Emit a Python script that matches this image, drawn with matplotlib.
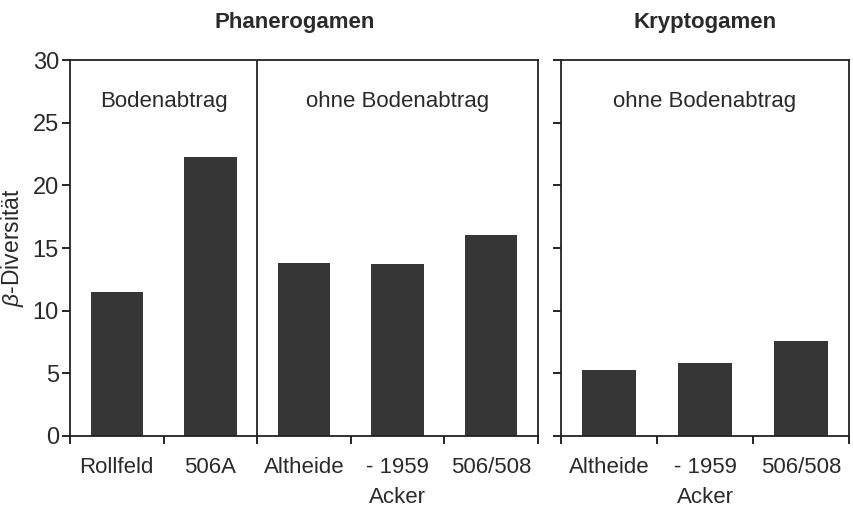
import matplotlib.pyplot as plt
import numpy as np

plt.rcParams['font.family'] = ['Liberation Sans', 'DejaVu Sans']
plt.rcParams['mathtext.fontset'] = 'custom'
plt.rcParams['mathtext.it'] = 'Liberation Sans:italic'

# Phanerogamen
phan_labels = ['Rollfeld', '506A', 'Altheide', '- 1959\nAcker', '506/508']
phan_values = [11.5, 22.3, 13.8, 13.7, 16.0]
# Kryptogamen
kryp_labels = ['Altheide', '- 1959\nAcker', '506/508']
kryp_values = [5.3, 5.8, 7.6]

bar_color = '#363636'
txt_color = '#2a2a2a'
fs = 16

fig = plt.figure(figsize=(8.54, 5.11), dpi=100)
ax1 = fig.add_axes([70 / 854, 1 - 436 / 511, (538 - 70) / 854, (436 - 60) / 511])
ax2 = fig.add_axes([561 / 854, 1 - 436 / 511, (849 - 561) / 854, (436 - 60) / 511])


def style(ax, labels, values, width):
    x = np.arange(len(values))
    ax.bar(x, values, width=width, color=bar_color)
    ax.set_xlim(-0.5, len(values) - 0.5)
    ax.set_ylim(0, 30)
    ax.set_yticks(range(0, 31, 5))
    ax.set_xticks(x)
    ax.set_xticklabels(labels, fontsize=fs, color=txt_color, linespacing=1.55, va='top')
    ax.set_xticks(np.arange(-0.5, len(values)), minor=True)
    ax.tick_params(axis='x', which='major', length=0, pad=15)
    ax.tick_params(axis='x', which='minor', length=6, width=1.2, direction='out')
    ax.tick_params(axis='y', length=6, width=1.2, direction='out', labelsize=17, labelcolor=txt_color, pad=2)
    for s in ax.spines.values():
        s.set_linewidth(1.3)
        s.set_color('#222222')


style(ax1, phan_labels, phan_values, 0.56)
style(ax2, kryp_labels, kryp_values, 0.57)

ax1.axvline(1.5, color='#222222', lw=1.3)
ax1.set_ylabel(r'$\beta$-Diversität', fontsize=16.5, color=txt_color, labelpad=5)
ax2.tick_params(axis='y', labelleft=False)

ax1.text(0.5, 26.7, 'Bodenabtrag', ha='center', va='center', fontsize=fs, color=txt_color)
ax1.text(3.0, 26.7, 'ohne Bodenabtrag', ha='center', va='center', fontsize=fs, color=txt_color)
ax2.text(1.0, 26.7, 'ohne Bodenabtrag', ha='center', va='center', fontsize=fs, color=txt_color)

ax1.set_title('Phanerogamen', fontsize=fs, fontweight='bold', color=txt_color, pad=23, x=0.481)
ax2.set_title('Kryptogamen', fontsize=fs, fontweight='bold', color=txt_color, pad=23)

fig.savefig('out.png', dpi=100)
